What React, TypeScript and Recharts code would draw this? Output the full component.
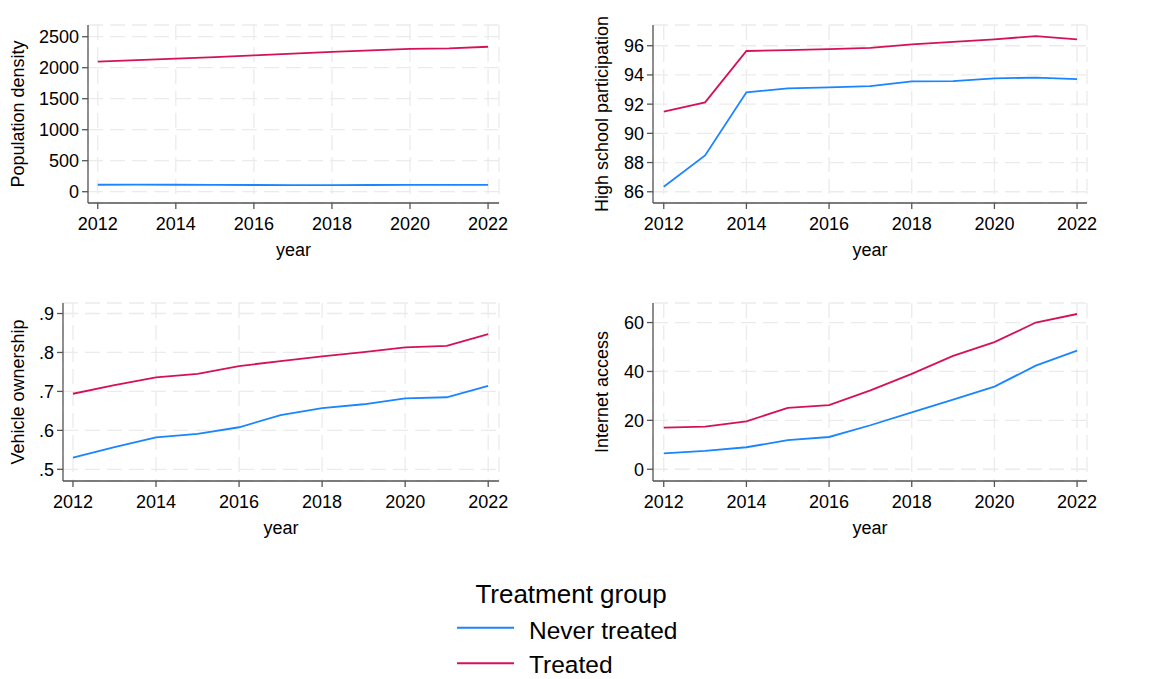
import { LineChart, Line, XAxis, YAxis, CartesianGrid } from "recharts";

const YEARS = [2012, 2013, 2014, 2015, 2016, 2017, 2018, 2019, 2020, 2021, 2022];
const YEAR_TICKS = [2012, 2014, 2016, 2018, 2020, 2022];

// Population density
const POP_NEVER = [112, 113, 112, 110, 108, 107, 107, 108, 109, 109, 110];
const POP_TREATED = [2097, 2122, 2148, 2172, 2200, 2228, 2255, 2280, 2305, 2312, 2338];
const POP_TICKS = [0, 500, 1000, 1500, 2000, 2500];

// High school participation
const HS_NEVER = [86.34, 88.49, 92.81, 93.08, 93.15, 93.24, 93.56, 93.58, 93.77, 93.81, 93.72];
const HS_TREATED = [91.48, 92.12, 95.64, 95.7, 95.77, 95.86, 96.1, 96.27, 96.44, 96.66, 96.44];
const HS_TICKS = [86, 88, 90, 92, 94, 96];

// Vehicle ownership
const VEH_NEVER = [0.53, 0.557, 0.582, 0.591, 0.608, 0.639, 0.657, 0.667, 0.682, 0.685, 0.714];
const VEH_TREATED = [0.694, 0.716, 0.736, 0.745, 0.765, 0.778, 0.79, 0.801, 0.813, 0.817, 0.847];
const VEH_TICKS = [0.5, 0.6, 0.7, 0.8, 0.9];

// Internet access
const NET_NEVER = [6.5, 7.5, 9.0, 11.9, 13.2, 18.0, 23.3, 28.5, 33.8, 42.4, 48.5];
const NET_TREATED = [17.0, 17.4, 19.6, 25.1, 26.2, 32.3, 39.0, 46.4, 52.0, 60.0, 63.5];
const NET_TICKS = [0, 20, 40, 60];

const SERIES = [
  { key: "never", label: "Never treated", color: "#1a85ff" },
  { key: "treated", label: "Treated", color: "#d41159" },
];

const FONT = '"Liberation Sans", Arial, Helvetica, sans-serif';
const AXIS_COLOR = "#555555";
const GRID_COLOR = "#ebebeb";

function rows(never: number[], treated: number[]) {
  return YEARS.map((year, i) => ({ year, never: never[i], treated: treated[i] }));
}

function yTitle(text: string, dx: number) {
  return ({ viewBox }: any) => {
    const x = viewBox.x + dx;
    const y = viewBox.y + viewBox.height / 2;
    return (
      <text
        x={x}
        y={y}
        transform={`rotate(-90 ${x} ${y})`}
        textAnchor="middle"
        dominantBaseline="central"
        fontSize={18}
        fill="#000"
      >
        {text}
      </text>
    );
  };
}

function xTitle({ viewBox }: any) {
  return (
    <text x={viewBox.x + viewBox.width / 2} y={viewBox.y + 52.5} textAnchor="middle" fontSize={18} fill="#000">
      year
    </text>
  );
}

const fmtDecimal = (v: number) => v.toFixed(1).replace(/^0/, "");

interface PanelProps {
  left: number;
  top: number;
  width: number;
  marginTop: number;
  marginRight: number;
  yWidth: number;
  xHeight: number;
  titleDx: number;
  title: string;
  never: number[];
  treated: number[];
  yTicks: number[];
  yDomain: [number, number];
  xDomain: [number, number];
  format?: (v: number) => string;
}

function Panel(p: PanelProps) {
  const data = rows(p.never, p.treated);
  return (
    <div style={{ position: "absolute", left: p.left, top: p.top }}>
      <LineChart
        width={p.width}
        height={270}
        data={data}
        margin={{ top: p.marginTop, right: p.marginRight, bottom: 0, left: 0 }}
      >
        <CartesianGrid stroke={GRID_COLOR} strokeWidth={1.3} strokeDasharray="15 7" />
        <XAxis
          type="number"
          dataKey="year"
          domain={p.xDomain}
          ticks={YEAR_TICKS}
          allowDataOverflow
          height={p.xHeight}
          tick={{ fill: "#000", fontSize: 18 }}
          tickSize={6}
          tickMargin={8}
          axisLine={{ stroke: AXIS_COLOR, strokeWidth: 1.3 }}
          tickLine={{ stroke: AXIS_COLOR, strokeWidth: 1.3 }}
          label={xTitle}
        />
        <YAxis
          type="number"
          domain={p.yDomain}
          ticks={p.yTicks}
          allowDataOverflow
          width={p.yWidth}
          tickFormatter={p.format}
          tick={{ fill: "#000", fontSize: 18 }}
          tickSize={6}
          tickMargin={3}
          axisLine={{ stroke: AXIS_COLOR, strokeWidth: 1.3 }}
          tickLine={{ stroke: AXIS_COLOR, strokeWidth: 1.3 }}
          label={yTitle(p.title, p.titleDx)}
        />
        {SERIES.map((s) => (
          <Line
            key={s.key}
            type="linear"
            dataKey={s.key}
            stroke={s.color}
            strokeWidth={1.8}
            dot={false}
            activeDot={false}
            isAnimationActive={false}
          />
        ))}
      </LineChart>
    </div>
  );
}

function GroupLegend() {
  return (
    <svg
      width={360}
      height={119}
      style={{ position: "absolute", left: 400, top: 560, fontFamily: FONT }}
    >
      <text x={171} y={43} textAnchor="middle" fontSize={26} fill="#000">
        Treatment group
      </text>
      {SERIES.map((s, i) => (
        <g key={s.key}>
          <line x1={57} x2={114} y1={67.7 + i * 35.6} y2={67.7 + i * 35.6} stroke={s.color} strokeWidth={2} />
          <text x={129} y={79.3 + i * 34} fontSize={24.5} fill="#000">
            {s.label}
          </text>
        </g>
      ))}
    </svg>
  );
}

export default function App() {
  return (
    <div
      style={{
        position: "absolute",
        left: 0,
        top: 0,
        width: 1156,
        height: 679,
        background: "#fff",
        fontFamily: FONT,
      }}
    >
      <Panel
        left={0}
        top={0}
        width={510}
        marginTop={25}
        marginRight={11}
        yWidth={88}
        xHeight={67}
        titleDx={17.5}
        title="Population density"
        never={POP_NEVER}
        treated={POP_TREATED}
        yTicks={POP_TICKS}
        yDomain={[-182, 2689]}
        xDomain={[2011.75, 2022.28]}
      />
      <Panel
        left={560}
        top={0}
        width={537}
        marginTop={25}
        marginRight={10}
        yWidth={93}
        xHeight={67}
        titleDx={41.7}
        title="High school participation"
        never={HS_NEVER}
        treated={HS_TREATED}
        yTicks={HS_TICKS}
        yDomain={[85.23, 97.42]}
        xDomain={[2011.74, 2022.24]}
      />
      <Panel
        left={0}
        top={270}
        width={510}
        marginTop={33}
        marginRight={11}
        yWidth={63}
        xHeight={59}
        titleDx={17.5}
        title="Vehicle ownership"
        never={VEH_NEVER}
        treated={VEH_TREATED}
        yTicks={VEH_TICKS}
        yDomain={[0.47, 0.927]}
        xDomain={[2011.76, 2022.26]}
        format={fmtDecimal}
      />
      <Panel
        left={560}
        top={270}
        width={537}
        marginTop={33}
        marginRight={10}
        yWidth={93}
        xHeight={59}
        titleDx={41.7}
        title="Internet access"
        never={NET_NEVER}
        treated={NET_TREATED}
        yTicks={NET_TICKS}
        yDomain={[-4.8, 68.0]}
        xDomain={[2011.74, 2022.24]}
      />
      <GroupLegend />
    </div>
  );
}
